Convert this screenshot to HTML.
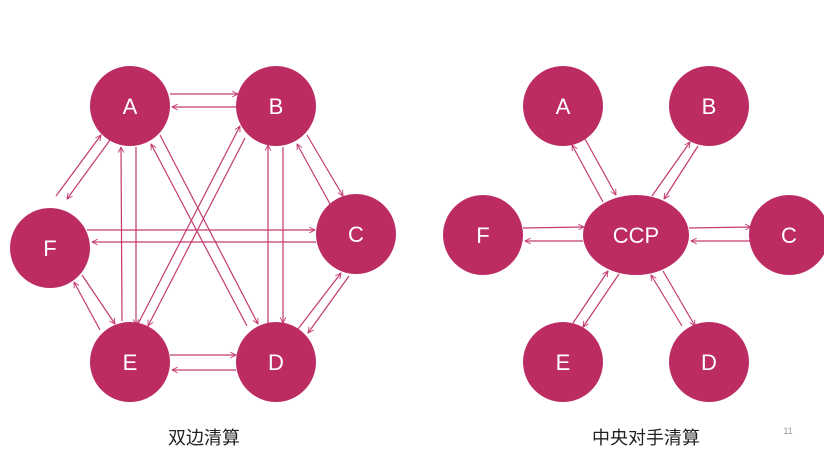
<!DOCTYPE html>
<html><head><meta charset="utf-8"><style>
html,body{margin:0;padding:0;background:#fff;}
svg{display:block;}
</style></head><body>
<svg width="824" height="471" viewBox="0 0 824 471" xmlns="http://www.w3.org/2000/svg">
<defs>
<marker id="ar" viewBox="0 0 10 10" refX="9" refY="5" markerWidth="7" markerHeight="7" orient="auto" markerUnits="userSpaceOnUse">
<path d="M1,1 L9,5 L1,9" fill="none" stroke="#c33a70" stroke-width="1.3"/>
</marker>
</defs>
<g stroke="#c33a70" stroke-width="1.2" fill="none" marker-end="url(#ar)">
<line x1="170" y1="94" x2="238" y2="94"/><line x1="236" y1="107" x2="172" y2="107"/>
<line x1="56" y1="196" x2="101" y2="135"/><line x1="110" y1="140" x2="67" y2="199"/>
<line x1="122" y1="321" x2="121" y2="147"/><line x1="136" y1="147" x2="136" y2="325"/>
<line x1="160" y1="135" x2="258" y2="324"/><line x1="247" y1="326" x2="151" y2="144"/>
<line x1="138" y1="324" x2="240" y2="126"/><line x1="245" y1="138" x2="148" y2="326"/>
<line x1="307" y1="135" x2="343" y2="196"/><line x1="330" y1="204" x2="297" y2="144"/>
<line x1="268" y1="324" x2="268" y2="145"/><line x1="283" y1="147" x2="283" y2="323"/>
<line x1="87" y1="230" x2="315" y2="230"/><line x1="316" y1="242" x2="92" y2="242"/>
<line x1="82" y1="275" x2="115" y2="324"/><line x1="100" y1="330" x2="74" y2="282"/>
<line x1="298" y1="329" x2="341" y2="273"/><line x1="349" y1="276" x2="308" y2="333"/>
<line x1="170" y1="355" x2="236" y2="355"/><line x1="236" y1="370" x2="172" y2="370"/>

<line x1="585" y1="139" x2="616" y2="195"/><line x1="603" y1="202" x2="572" y2="145"/>
<line x1="652" y1="196" x2="690" y2="142"/><line x1="698" y1="146" x2="664" y2="199"/>
<line x1="523" y1="228" x2="584" y2="227"/><line x1="583" y1="241" x2="525" y2="241"/>
<line x1="689" y1="228" x2="751" y2="227"/><line x1="750" y1="241" x2="691" y2="241"/>
<line x1="573" y1="323" x2="608" y2="271"/><line x1="619" y1="274" x2="583" y2="327"/>
<line x1="682" y1="326" x2="651" y2="275"/><line x1="663" y1="271" x2="695" y2="326"/>
</g>
<g fill="#bc2c63">
<circle cx="130" cy="106" r="40"/><circle cx="276" cy="106" r="40"/>
<circle cx="356" cy="234" r="40"/><circle cx="50" cy="248" r="40"/>
<circle cx="130" cy="362" r="40"/><circle cx="276" cy="362" r="40"/>
<circle cx="563" cy="106" r="40"/><circle cx="709" cy="106" r="40"/>
<circle cx="483" cy="235" r="40"/><circle cx="789" cy="235" r="40"/>
<circle cx="563" cy="362" r="40"/><circle cx="709" cy="362" r="40"/>
<ellipse cx="636" cy="235" rx="53" ry="40"/>
</g>
<g fill="#fff" font-family="Liberation Sans, sans-serif" font-size="22" text-anchor="middle">
<text x="130" y="114">A</text><text x="276" y="114">B</text><text x="356" y="242">C</text>
<text x="50" y="256">F</text><text x="130" y="370">E</text><text x="276" y="370">D</text>
<text x="563" y="114">A</text><text x="709" y="114">B</text><text x="789" y="243">C</text>
<text x="483" y="243">F</text><text x="563" y="370">E</text><text x="709" y="370">D</text>
<text x="636" y="243">CCP</text>
</g>
<g fill="#222" font-family="Liberation Sans, Noto Sans CJK SC, sans-serif" font-size="18" text-anchor="middle">
<text x="204" y="444">双边清算</text>
<text x="646" y="444">中央对手清算</text>
</g>
<text x="788" y="434" fill="#999" font-family="Liberation Sans, sans-serif" font-size="9" text-anchor="middle">11</text>
</svg>
</body></html>
